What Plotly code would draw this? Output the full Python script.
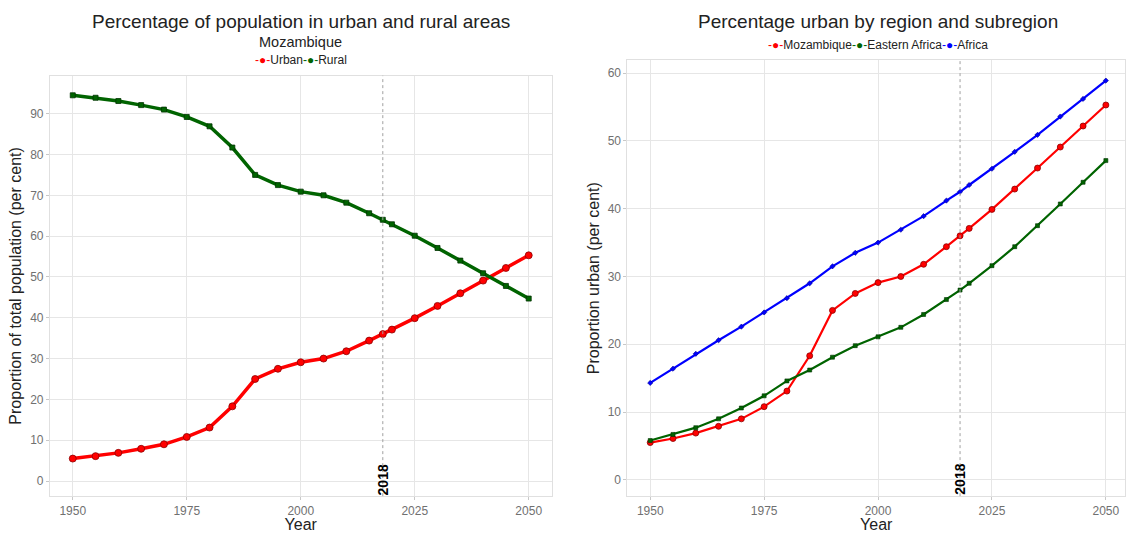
import plotly.graph_objects as go

years = [1950, 1955, 1960, 1965, 1970, 1975, 1980, 1985, 1990, 1995, 2000,
         2005, 2010, 2015, 2018, 2020, 2025, 2030, 2035, 2040, 2045, 2050]
urban_moz = [5.5, 6.1, 6.9, 7.9, 9.0, 10.8, 13.1, 18.3, 25.0, 27.5, 29.1,
             30.0, 31.8, 34.4, 36.0, 37.1, 39.9, 42.9, 46.0, 49.1, 52.2, 55.3]
rural_moz = [94.5, 93.9, 93.1, 92.1, 91.0, 89.2, 86.9, 81.7, 75.0, 72.5, 70.9,
             70.0, 68.2, 65.6, 64.0, 62.9, 60.1, 57.1, 54.0, 50.9, 47.8, 44.7]
eastern_africa = [5.8, 6.7, 7.7, 9.0, 10.6, 12.4, 14.6, 16.2, 18.1, 19.8, 21.1,
                  22.5, 24.4, 26.6, 28.0, 29.0, 31.6, 34.4, 37.5, 40.7, 43.9, 47.1]
africa = [14.3, 16.4, 18.6, 20.6, 22.6, 24.7, 26.8, 29.0, 31.5, 33.5, 35.0,
          36.9, 38.9, 41.2, 42.5, 43.5, 45.9, 48.4, 50.9, 53.6, 56.2, 58.9]
x_ticks = [1950, 1975, 2000, 2025, 2050]
ref_year = 2018

RED = "#FF0000"
GREEN = "#006400"
BLUE = "#0000FF"
FONT = "Liberation Sans, Arial, sans-serif"

W, H = 1126, 533

fig = go.Figure()

# Left panel
fig.add_trace(go.Scatter(x=years, y=urban_moz, name="Urban", mode="lines+markers",
                         line=dict(color=RED, width=3.5),
                         marker=dict(symbol="circle", size=7, color=RED,
                                     line=dict(color="#8B0000", width=0.8)),
                         xaxis="x", yaxis="y", showlegend=False))
fig.add_trace(go.Scatter(x=years, y=rural_moz, name="Rural", mode="lines+markers",
                         line=dict(color=GREEN, width=3.5),
                         marker=dict(symbol="square", size=5, color=GREEN,
                                     line=dict(color="#003300", width=0.8)),
                         xaxis="x", yaxis="y", showlegend=False))

# Right panel
fig.add_trace(go.Scatter(x=years, y=urban_moz, name="Mozambique", mode="lines+markers",
                         line=dict(color=RED, width=2.2),
                         marker=dict(symbol="circle", size=6, color=RED,
                                     line=dict(color="#8B0000", width=0.8)),
                         xaxis="x2", yaxis="y2", showlegend=False))
fig.add_trace(go.Scatter(x=years, y=eastern_africa, name="Eastern Africa", mode="lines+markers",
                         line=dict(color=GREEN, width=2.2),
                         marker=dict(symbol="square", size=4, color=GREEN,
                                     line=dict(color="#003300", width=0.6)),
                         xaxis="x2", yaxis="y2", showlegend=False))
fig.add_trace(go.Scatter(x=years, y=africa, name="Africa", mode="lines+markers",
                         line=dict(color=BLUE, width=2.2),
                         marker=dict(symbol="diamond", size=4, color=BLUE,
                                     line=dict(color="#00008B", width=0.6)),
                         xaxis="x2", yaxis="y2", showlegend=False))

axis_common = dict(showgrid=True, gridcolor="#E6E6E6", gridwidth=1,
                   showline=True, linecolor="#E0E0E0", mirror=True, zeroline=False,
                   ticks="outside", ticklen=3, tickcolor="#C8C8C8",
                   tickfont=dict(family=FONT, size=12, color="#707070"))

left_dom = [50 / W, 552 / W]
right_dom = [628 / W, 1.0]
y_dom = [1 - 498 / H, 1 - 76 / H]
y_dom2 = [1 - 498 / H, 1 - 60.5 / H]

title_font = dict(size=16, color="#222222", family=FONT)

fig.update_layout(
    width=W, height=H,
    margin=dict(l=0, r=0, t=0, b=0),
    paper_bgcolor="white", plot_bgcolor="white",
    font=dict(family=FONT, color="#222222"),
    showlegend=False,
    xaxis=dict(domain=left_dom, range=[1945, 2055], tickvals=x_ticks, anchor="y",
               title=dict(text="Year", font=title_font, standoff=4), **axis_common),
    yaxis=dict(domain=y_dom, range=[-3.7, 99.3], dtick=10, anchor="x",
               title=dict(text="Proportion of total population (per cent)",
                          font=title_font, standoff=4), **axis_common),
    xaxis2=dict(domain=right_dom, range=[1945, 2054.2], tickvals=x_ticks, anchor="y2",
                title=dict(text="Year", font=title_font, standoff=4), **axis_common),
    yaxis2=dict(domain=y_dom2, range=[-2.4, 61.9], dtick=10, anchor="x2",
                title=dict(text="Proportion urban (per cent)", font=title_font, standoff=4),
                **axis_common),
)

# Reference year dotted lines
for xr, yr in (("x", "y"), ("x2", "y2")):
    fig.add_shape(type="line", xref=xr, yref=yr + " domain", x0=ref_year, x1=ref_year,
                  y0=0, y1=1, line=dict(color="#A0A0A0", width=1, dash="dot"))
    fig.add_annotation(xref=xr, yref=yr + " domain", x=ref_year, y=0.0, yshift=-1,
                       text="<b>2018</b>", showarrow=False, textangle=-90,
                       xanchor="center", yanchor="bottom",
                       font=dict(family=FONT, size=14, color="black"))

left_cx = 301 / W
right_cx = 879 / W

# Titles
fig.add_annotation(xref="paper", yref="paper", x=left_cx, y=1 - 22 / H,
                   text="Percentage of population in urban and rural areas",
                   showarrow=False, xanchor="center", yanchor="middle",
                   font=dict(family=FONT, size=19, color="#222222"))
fig.add_annotation(xref="paper", yref="paper", x=left_cx, y=1 - 42 / H,
                   text="Mozambique", showarrow=False, xanchor="center", yanchor="middle",
                   font=dict(family=FONT, size=14.5, color="#222222"))
fig.add_annotation(xref="paper", yref="paper", x=right_cx, y=1 - 22 / H,
                   text="Percentage urban by region and subregion",
                   showarrow=False, xanchor="center", yanchor="middle",
                   font=dict(family=FONT, size=19, color="#222222"))


def legend_text(items):
    parts = []
    for name, color in items:
        parts.append(f'<span style="color:{color}">-●-</span>{name}')
    return "".join(parts)


fig.add_annotation(xref="paper", yref="paper", x=left_cx, y=1 - 60 / H,
                   text=legend_text([("Urban", RED), ("Rural", GREEN)]),
                   showarrow=False, xanchor="center", yanchor="middle",
                   font=dict(family=FONT, size=12, color="#222222"))
fig.add_annotation(xref="paper", yref="paper", x=right_cx, y=1 - 45 / H,
                   text=legend_text([("Mozambique", RED), ("Eastern Africa", GREEN),
                                     ("Africa", BLUE)]),
                   showarrow=False, xanchor="center", yanchor="middle",
                   font=dict(family=FONT, size=12, color="#222222"))

fig.write_html("out.html",
               config={"displayModeBar": False},
               post_script="document.body.style.margin='0';"
                           "document.body.style.overflow='hidden';")
